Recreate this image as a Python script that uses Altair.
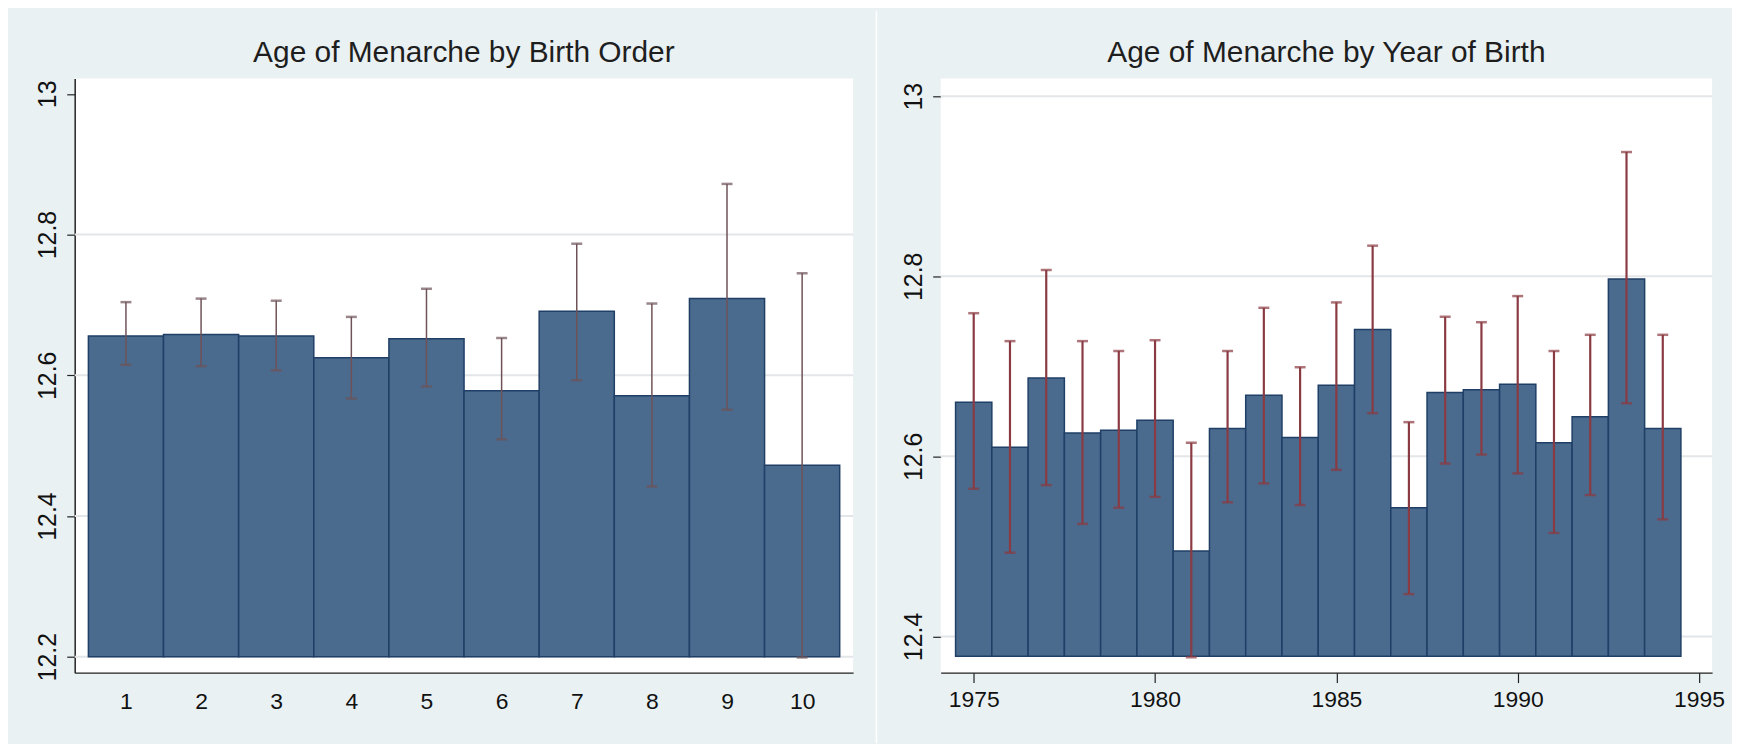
import altair as alt
import pandas as pd

# ---------------- data ----------------
birth_order = [1, 2, 3, 4, 5, 6, 7, 8, 9, 10]
bo_mean = [12.656, 12.658, 12.656, 12.625, 12.652, 12.578, 12.691, 12.571, 12.709, 12.472]
bo_hi = [12.704, 12.709, 12.706, 12.683, 12.723, 12.653, 12.787, 12.702, 12.872, 12.745]
bo_lo = [12.615, 12.613, 12.607, 12.567, 12.584, 12.509, 12.593, 12.442, 12.551, 12.199]
bo_base = 12.2

years = list(range(1975, 1995))
yr_mean = [12.660, 12.610, 12.687, 12.626, 12.629, 12.640, 12.495, 12.631, 12.668, 12.621,
           12.679, 12.741, 12.543, 12.671, 12.674, 12.680, 12.615, 12.644, 12.797, 12.631]
yr_hi = [12.759, 12.728, 12.807, 12.728, 12.717, 12.729, 12.615, 12.717, 12.765, 12.699,
         12.771, 12.834, 12.638, 12.755, 12.749, 12.778, 12.717, 12.735, 12.938, 12.735]
yr_lo = [12.564, 12.493, 12.568, 12.525, 12.543, 12.555, 12.377, 12.549, 12.570, 12.546,
         12.585, 12.648, 12.447, 12.592, 12.602, 12.581, 12.515, 12.557, 12.659, 12.530]
yr_base = 12.378

left_ticks_y = [12.2, 12.4, 12.6, 12.8, 13]
left_grid_y = [12.2, 12.4, 12.6, 12.8]
right_ticks_y = [12.4, 12.6, 12.8, 13]
right_grid_y = [12.4, 12.6, 12.8, 13]
right_ticks_x = [1975, 1980, 1985, 1990, 1995]

title_left = "Age of Menarche by Birth Order"
title_right = "Age of Menarche by Year of Birth"

# ---------------- style ----------------
BG = "#EAF1F3"
BAR = "#4A6B8E"
BAR_STROKE = "#1F3F66"
ERR_L = "#6E5258"
ERR_R = "#8A3A42"
GRID = "#E3E6E8"
AXIS = "#222222"
FONT = "Liberation Sans"

H = 597
WL = 782
WR = 775

df_l = pd.DataFrame({"x": birth_order, "m": bo_mean, "hi": bo_hi, "lo": bo_lo})
df_l["base"] = bo_base
df_r = pd.DataFrame({"x": years, "m": yr_mean, "hi": yr_hi, "lo": yr_lo})
df_r["base"] = yr_base
one = pd.DataFrame({"a": [0]})


def panel(df, width, xdomain, ydomain, yticks, grid_vals, xaxis, yaxis_domain,
          errcolor, errwidth, title, bounds, sep=None):
    yscale = alt.Scale(domain=ydomain, zero=False, nice=False)
    xscale = alt.Scale(domain=xdomain, zero=False, nice=False)
    yaxis = alt.Axis(
        values=yticks, format="~g", labelAngle=270, labelAlign="center",
        labelBaseline="bottom", tickSize=8, labelPadding=6, domain=yaxis_domain,
        domainColor=AXIS, domainWidth=1.5, tickColor=AXIS, tickWidth=1.2,
        grid=False, labelFontSize=25, labelFont=FONT, labelColor="#111111",
        labelOverlap=False)

    bnd = alt.Chart(one).mark_rect(opacity=0).encode(
        x=alt.value(bounds[0]), x2=alt.value(bounds[1]),
        y=alt.value(bounds[2]), y2=alt.value(bounds[3]))
    layers = [bnd]
    if sep is not None:
        layers.append(alt.Chart(one).mark_rule(color="white", strokeWidth=1.5).encode(
            x=alt.value(sep), y=alt.value(bounds[2]), y2=alt.value(bounds[3])))

    ttl = alt.Chart(one).mark_text(fontSize=30, font=FONT, color="#1E1E1E",
                                   align="center", baseline="middle").encode(
        x=alt.value(width / 2), y=alt.value(-25), text=alt.value(title))

    grid = alt.Chart(pd.DataFrame({"g": grid_vals})).mark_rule(
        color=GRID, strokeWidth=2).encode(
        y=alt.Y("g:Q", scale=yscale, axis=yaxis, title=None),
        x=alt.value(0), x2=alt.value(width))

    bars = alt.Chart(df).transform_calculate(
        x0="datum.x - 0.5", x1="datum.x + 0.5"
    ).mark_bar(color=BAR, stroke=BAR_STROKE, strokeWidth=1.5).encode(
        x=alt.X("x0:Q", scale=xscale, axis=xaxis, title=None),
        x2="x1:Q",
        y=alt.Y("m:Q", scale=yscale, title=None, axis=yaxis),
        y2="base:Q")

    stems = alt.Chart(df).mark_rule(color=errcolor, strokeWidth=errwidth).encode(
        x=alt.X("x:Q", scale=xscale, axis=xaxis, title=None),
        y=alt.Y("lo:Q", scale=yscale, axis=yaxis, title=None), y2="hi:Q")
    cap_hi = alt.Chart(df).mark_tick(color=errcolor, orient="horizontal", size=11,
                                     thickness=2.5).encode(
        x=alt.X("x:Q", scale=xscale, axis=xaxis, title=None),
        y=alt.Y("hi:Q", scale=yscale, axis=yaxis, title=None))
    cap_lo = alt.Chart(df).mark_tick(color=errcolor, orient="horizontal", size=11,
                                     thickness=2.5).encode(
        x=alt.X("x:Q", scale=xscale, axis=xaxis, title=None),
        y=alt.Y("lo:Q", scale=yscale, axis=yaxis, title=None))

    layers += [ttl, grid, bars, stems, cap_hi, cap_lo]
    return alt.layer(*layers).properties(width=width, height=H)


xaxis_l = alt.Axis(values=birth_order, format="d", ticks=False, labelPadding=18,
                   domainColor=AXIS, domainWidth=1.5, grid=False, labelFontSize=23,
                   labelFont=FONT, labelColor="#111111", labelFlush=False)
xaxis_r = alt.Axis(values=right_ticks_x, format="d", tickSize=10, tickWidth=1.2,
                   tickColor=AXIS, labelPadding=6, domainColor=AXIS, domainWidth=1.5,
                   grid=False, labelFontSize=23, labelFont=FONT, labelColor="#111111",
                   labelFlush=False)

left = panel(df_l, WL, [0.3177, 10.678], [12.1774, 13.022], left_ticks_y, left_grid_y,
             xaxis_l, True, ERR_L, 1.5, title_left, bounds=(-67, 807, -68, 668), sep=805.5)
right = panel(df_r, WR, [1974.089, 1995.36], [12.3598, 13.0198], right_ticks_y,
              right_grid_y, xaxis_r, False, ERR_R, 2.2, title_right,
              bounds=(-63, 795, -68, 668))

chart = alt.hconcat(left, right, spacing=0).properties(
    padding=0, background=BG
).configure_view(fill="white", strokeWidth=0)

chart.save("out.html", embed_options={"renderer": "svg", "actions": False})
